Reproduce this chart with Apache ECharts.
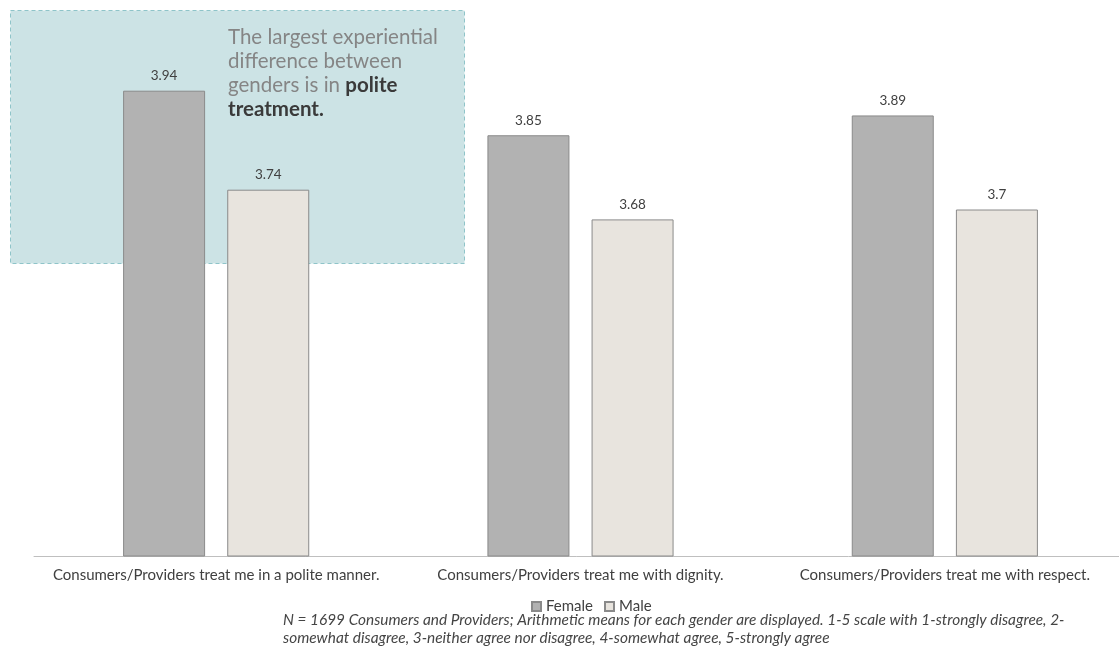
<!DOCTYPE html>
<html><head><meta charset="utf-8">
<script src="https://cdn.jsdelivr.net/npm/echarts@6/dist/echarts.min.js"></script>
<style>html,body{margin:0;padding:0;background:#fff}#c{width:1119px;height:670px}</style>
</head><body><div id="c"></div>
<script>
const categories = ["Consumers/Providers treat me in a polite manner.", "Consumers/Providers treat me with dignity.", "Consumers/Providers treat me with respect."];
const female = [3.94, 3.85, 3.89];
const male = [3.74, 3.68, 3.7];
const seriesNames = ["Female", "Male"];
const noteText = "N = 1699 Consumers and Providers; Arithmetic means for each gender are displayed. 1-5 scale with 1-strongly disagree, 2-\nsomewhat disagree, 3-neither agree nor disagree, 4-somewhat agree, 5-strongly agree";
const FONT = "Lato, 'Noto Sans', sans-serif";
const chart = echarts.init(document.getElementById('c'));
chart.setOption({
  animation: false,
  textStyle: {fontFamily: FONT},
  grid: {left: 34, width: 1093, top: 61, bottom: 114, outerBoundsMode: 'none', containLabel: false},
  xAxis: {type: 'category', data: categories,
    axisLine: {lineStyle: {color: '#bfbfbf', width: 1}},
    axisTick: {show: false},
    axisLabel: {color: '#404040', fontSize: 15, margin: 12, interval: 0, fontFamily: FONT}},
  yAxis: {type: 'value', min: 3, max: 4, show: false, splitLine: {show: false}},
  legend: {top: 594, left: 526, icon: 'rect', itemWidth: 9, itemHeight: 9, itemGap: 11,
    textStyle: {color: '#404040', fontSize: 15, fontFamily: FONT},
    data: seriesNames},
  series: [
    {name: seriesNames[0], type: 'bar', data: female, barWidth: 82, barGap: '27%', z: 3,
      itemStyle: {color: '#b2b2b2', borderColor: '#8a8a8a', borderWidth: 1},
      label: {show: true, position: 'top', distance: 8, color: '#404040', fontSize: 13.5, fontFamily: FONT}},
    {name: seriesNames[1], type: 'bar', data: male, barWidth: 82, z: 3,
      itemStyle: {color: '#e8e4de', borderColor: '#8a8a8a', borderWidth: 1},
      label: {show: true, position: 'top', distance: 8, color: '#404040', fontSize: 13.5, fontFamily: FONT}}
  ],
  graphic: [
    {type: 'rect', z: 0, shape: {x: 10.5, y: 10.5, width: 454, height: 253},
      style: {fill: '#cce3e5', stroke: '#8fc4c9', lineWidth: 1, lineDash: [4, 3]}},
    {type: 'text', z: 1, left: 228, top: 25,
      style: {text: 'The largest experiential\ndifference between\ngenders is in {b|polite}\n{b|treatment.}',
        fill: '#858585', font: '20.5px ' + FONT, lineHeight: 24,
        rich: {b: {fontWeight: 'bold', fill: '#3a3a3a', fontSize: 20.5, lineHeight: 24, fontFamily: FONT}}}},
    {type: 'text', z: 1, left: 283, top: 611,
      style: {text: noteText, fill: '#454545', font: 'italic 15.4px ' + FONT, lineHeight: 18}}
  ]
});
</script></body></html>
